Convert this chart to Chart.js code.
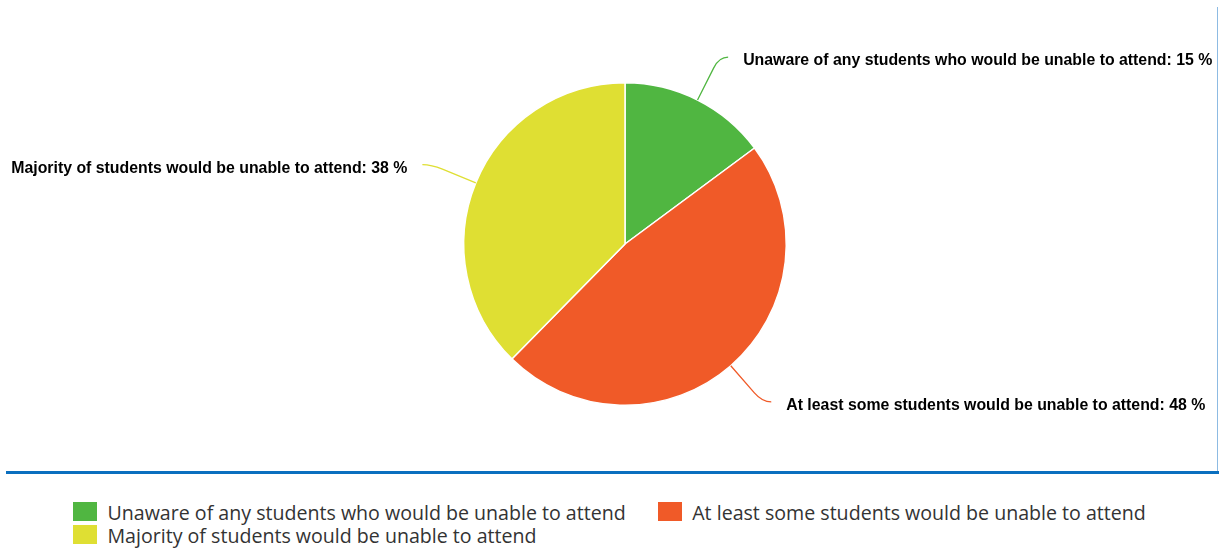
<!DOCTYPE html>
<html>
<head>
<meta charset="utf-8">
<script src="https://cdn.jsdelivr.net/npm/chart.js@4/dist/chart.umd.min.js"></script>
<style>
  html, body { margin: 0; padding: 0; background: #fff; }
  #wrap { position: relative; width: 1219px; height: 548px; overflow: hidden; }
  #chartBox { position: absolute; left: 0; top: 0; width: 1219px; height: 470px; }
  #blueLine { position: absolute; left: 6px; top: 471px; width: 1213px; height: 3px; background: #0a6fbf; }
  #sideLine { position: absolute; left: 1217px; top: 7px; width: 1px; height: 465px; background: #8dbbe3; }
  #legend { position: absolute; left: 73px; top: 502px; width: 1120px; display: flex; flex-wrap: wrap; column-gap: 32px; row-gap: 3px;
            font-family: "Open Sans", sans-serif; font-size: 19.6px; color: #333; }
  .item { display: flex; align-items: flex-start; height: 20px; }
  .box { width: 24px; height: 19px; margin-right: 10.5px; flex: none; }
  .txt { line-height: 20px; white-space: nowrap; position: relative; top: 1px; }
</style>
</head>
<body>
<div id="wrap">
  <div id="chartBox"><canvas id="c"></canvas></div>
  <div id="sideLine"></div>
  <div id="blueLine"></div>
  <div id="legend"></div>
</div>
<script>
const categories = [
  "Unaware of any students who would be unable to attend",
  "At least some students would be unable to attend",
  "Majority of students would be unable to attend"
];
const percentValues = [15, 48, 38];
const sliceColors = ["#50b641", "#f05a28", "#dfdf33"];

const leaderLabels = {
  id: 'leaderLabels',
  afterDatasetsDraw(chart) {
    const ctx = chart.ctx;
    const meta = chart.getDatasetMeta(0);
    const ds = chart.data.datasets[0];
    meta.data.forEach((arc, i) => {
      const p = arc.getProps(['x', 'y', 'startAngle', 'endAngle', 'outerRadius'], true);
      const mid = (p.startAngle + p.endAngle) / 2;
      const dx = Math.cos(mid), dy = Math.sin(mid);
      const r = p.outerRadius;
      const p0 = { x: p.x + dx * r, y: p.y + dy * r };
      const pm = { x: p.x + dx * (r + 36), y: p.y + dy * (r + 36) };
      const corner = { x: p.x + dx * (r + 48), y: p.y + dy * (r + 48) };
      const side = dx >= 0 ? 1 : -1;
      const p2 = { x: corner.x + side * 9, y: corner.y };
      ctx.save();
      ctx.strokeStyle = ds.backgroundColor[i];
      ctx.lineWidth = 1.3;
      ctx.beginPath();
      ctx.moveTo(p0.x, p0.y);
      ctx.lineTo(pm.x, pm.y);
      ctx.quadraticCurveTo(corner.x, corner.y, p2.x, p2.y);
      ctx.stroke();
      ctx.fillStyle = '#000';
      ctx.font = 'bold 15.85px "Liberation Sans", Arial, sans-serif';
      ctx.textBaseline = 'middle';
      ctx.textAlign = side > 0 ? 'left' : 'right';
      ctx.fillText(chart.data.labels[i] + ': ' + ds.data[i] + ' %', p2.x + side * 15, p2.y + 3.5);
      ctx.restore();
    });
  }
};

const chart = new Chart(document.getElementById('c'), {
  type: 'pie',
  data: {
    labels: categories,
    datasets: [{
      data: percentValues,
      backgroundColor: sliceColors,
      borderColor: '#ffffff',
      borderWidth: 1.5
    }]
  },
  options: {
    responsive: true,
    maintainAspectRatio: false,
    animation: false,
    layout: { padding: { top: 82, bottom: 64, left: 31, right: 0 } },
    plugins: {
      legend: { display: false },
      tooltip: { enabled: false }
    }
  },
  plugins: [leaderLabels]
});

const legendEl = document.getElementById('legend');
categories.forEach((name, i) => {
  const item = document.createElement('div');
  item.className = 'item';
  const box = document.createElement('span');
  box.className = 'box';
  box.style.background = sliceColors[i];
  const txt = document.createElement('span');
  txt.className = 'txt';
  txt.textContent = name;
  item.appendChild(box);
  item.appendChild(txt);
  legendEl.appendChild(item);
});
</script>
</body>
</html>
